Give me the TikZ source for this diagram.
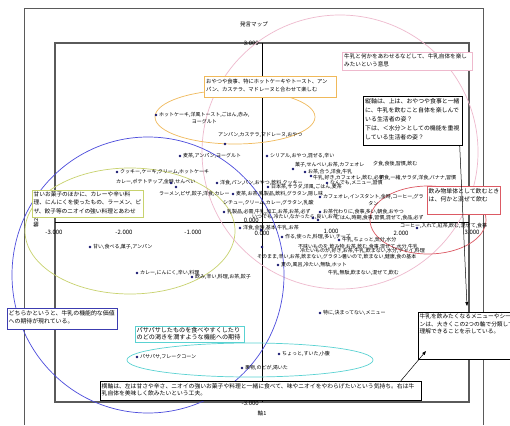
\documentclass[tikz,border=0pt]{standalone}
\usepackage{fontspec}
\setmainfont{Noto Sans CJK JP}
\usetikzlibrary{shapes.geometric,arrows.meta}
\definecolor{orE}{RGB}{240,185,90}
\definecolor{pkE}{RGB}{238,185,205}
\definecolor{blE}{RGB}{75,75,220}
\definecolor{ylE}{RGB}{200,210,110}
\definecolor{rdE}{RGB}{220,90,100}
\definecolor{cyE}{RGB}{90,210,210}
\definecolor{dotc}{RGB}{20,20,110}
\definecolor{frc}{RGB}{90,90,90}
\newcommand\mpt[4]{\node[dot] (#1) at (#2,#3) {}; \node[lab] (#1t) at ([xshift=1.3pt]#1.east) {#4};}
\newcommand\mdot[3]{\node[dot] (#1) at (#2,#3) {};}
\newcommand\mtxt[4]{\node[lab] (#1) at (#2,#3) {#4};}
\tikzset{
 dot/.style={diamond, fill=dotc, inner sep=0pt, minimum size=3pt},
 lab/.style={font=\fontsize{5}{6}\selectfont, inner sep=0pt, anchor=west},
 ticklab/.style={font=\fontsize{6}{7}\selectfont, inner sep=0pt},
 frm/.style={fill=white, line width=0.7pt, inner sep=0pt, anchor=north west},
 btxt/.style={inner sep=0pt, anchor=north west, align=left},
 ell/.style={line width=0.7pt},
 arr/.style={line width=0.5pt, -{Triangle[length=4pt,width=3pt]}}
}
\begin{document}
\begin{tikzpicture}[x=1pt,y=-1pt]
\useasboundingbox (0,0) rectangle (510,425);
\fill[white] (0,0) rectangle (510,425);
% outer frame
\draw[frc, line width=0.7pt] (24,425) -- (24,8) -- (483,8) -- (483,425);
\node[font=\fontsize{5.6}{7}\selectfont, inner sep=0pt] (title) at (254,24) {発言マップ};
% inner frame and axes
\draw[frc, line width=1.4pt] (55,43) rectangle (469,402);
\draw[black, line width=0.5pt] (55,222) -- (469,222);
\draw[black, line width=0.5pt] (262,43) -- (262,402);
% tick labels
\node[ticklab] (xm3) at (54,232) {-3.000};
\node[ticklab] (xm2) at (124,232) {-2.000};
\node[ticklab] (xm1) at (193,232) {-1.000};
\node[ticklab] (x0) at (262,233) {0.000};
\node[ticklab] (x1) at (331,231) {1.000};
\node[ticklab] (x2) at (401,233) {2.000};
\node[ticklab] (x3) at (472,232) {3.000};
\node[ticklab, anchor=east] (y3) at (259,43) {3.000};
\node[ticklab, anchor=east] (y0) at (259,220) {0.000};
\node[ticklab, anchor=east] (ym3) at (259,403) {-3.000};
\node[font=\fontsize{5.6}{7}\selectfont, inner sep=0pt] (ax1) at (262,413) {軸1};
\node[font=\fontsize{5.6}{7}\selectfont, inner sep=0pt, rotate=90] (ax2) at (36,223) {軸2};
% ellipses
\draw[ell, pkE] (340,152) ellipse [x radius=138, y radius=137];
\draw[ell, orE] (235,117) ellipse [x radius=80, y radius=27];
\draw[ell, blE] (148,275) ellipse [x radius=136, y radius=138];
\draw[ell, ylE] (130,231) ellipse [x radius=105, y radius=63];
\draw[ell, rdE] (428,220) ellipse [x radius=58, y radius=34];
\draw[ell, cyE] (250,360) ellipse [x radius=123, y radius=17];
% data points
\mdot{a1}{156}{115}
\node[lab, anchor=north west, align=center, font=\fontsize{5}{7}\selectfont] (a1t) at (159,112) {ホットケーキ,洋風トースト,ごはん,赤み,\\ヨーグルト};
\mdot{a2}{225}{144}
\mtxt{a2t}{218}{135}{アンパン,カステラ,マドレーヌ,おやつ}
\mpt{a3}{180}{156}{麦茶,アンパン,ヨーグルト}
\mpt{a4}{267}{156}{シリアル,おやつ,混ぜる,辛い}
\mpt{a5}{117}{172}{クッキー,ケーキ,クリーム,ホットケーキ}
\mtxt{l6}{116}{182}{カレー,ポテトチップ,金時,せんべい}
\mdot{a6}{171}{183}
\mdot{a7}{176}{187}
\mtxt{l7}{159}{194}{ラーメン,ピザ,餃子,洋食,カレー}
\mpt{a8}{217}{183}{洋食,パン,パン,おやつ,飲料,クッキー}
\mpt{a9}{233}{194}{麦茶,お茶,乳製品,飲料,グラタン,隠し味}
\mpt{a10}{268}{187}{日本茶,サラダ,洋風,ごはん,麦茶}
\mdot{a11}{320}{197}
\node[lab, anchor=north west, align=center, font=\fontsize{5}{7}\selectfont] (a11t) at (323,194) {カフェオレ,インスタント,金時,コーヒー,グラ\\タン};
\mdot{a12}{293}{169}
\mtxt{a12t}{295}{165}{菓子,せんべい,お茶,カフェオレ}
\mpt{a13}{305}{172}{お茶,合う,洋食,牛乳}
\mdot{a14}{311}{176}
\mtxt{a14t}{313}{178}{牛乳,好き,カフェオレ,飲む,必ず}
\mtxt{l15}{373}{164}{夕食,食後,習慣,飲む}
\mtxt{l16}{379}{178}{朝食,一緒,サラダ,洋食,バナナ,習慣}
\mpt{a15}{327}{183}{なんでも,メニュー,習慣}
\mtxt{l17}{223}{203}{シチュー,クリーム,カレー,グラタン,乳酸}
\mpt{a16}{224}{212}{乳製品,必需,牛乳,加工,お茶,お茶,必ず}
\mpt{a17}{240}{228}{洋食,金時,基本,牛乳,お茶}
\mtxt{l18}{252}{217}{いつでも,冷たい,なかったら,良い,お茶}
\mpt{a18}{320}{212}{お茶代わりに,食事,多い,朝食,おやつ}
\mtxt{l19}{335}{218}{ごはん,時期,食事,習慣,混ぜて,食品,必ず}
\mdot{a19}{313}{218}
\mdot{a20}{318}{220}
\mdot{a21}{417}{228}
\mtxt{a21t}{400}{226}{コーヒー,入れて,紅茶,飲む,混ぜて,食事}
\mpt{a22}{282}{237}{作る,使った,料理,多い,チーズ}
\mpt{a23}{339}{240}{牛乳,ちょっと,気分,水分}
\mdot{a24}{262}{247}
\mdot{a25}{261}{230}
\mtxt{l20}{298}{247}{不味いものを,飲み物,お茶,飲む,食事,混ぜて,水分,牛乳}
\mtxt{l21}{300}{251}{冷たいものが,好き,お茶,牛乳,飲まない,水分,チャイ,料理}
\mtxt{l22}{257}{257}{そのまま,辛い,お茶,飲まない,グラタン}
\mtxt{l23}{342}{257}{暑いので,飲まない,健康,食の基本}
\mpt{a26}{278}{265}{夏の,風呂,冷たい,無駄,ホット}
\mtxt{l24}{328}{273}{牛乳,無駄,飲まない,混ぜて,飲む}
\mpt{a27}{90}{247}{甘い,食べる,菓子,アンパン}
\mpt{a28}{137}{273}{カレー,にんにく,辛い,料理}
\mpt{a29}{192}{277}{飲み,辛い,料理,お茶,餃子}
\mpt{a30}{320}{313}{特に,決まってない,メニュー}
\mpt{a31}{279}{354}{ちょっと,すいた,小腹}
\mpt{a32}{137}{357}{パサパサ,フレークコーン}
\mpt{a33}{242}{368}{果物,のどが,渇いた}
% text boxes
\node[frm, draw=orE, minimum width=132pt, minimum height=21pt] (bA) at (204,76) {};
\node[btxt, font=\fontsize{5.3}{8}\selectfont] (bAt) at ([shift={(2,2.5)}]bA.north west) {おやつや食事、特にホットケーキやトースト、アン\\パン、カステラ、マドレーヌと合わせて楽しむ};
\node[frm, draw=pkE, minimum width=130pt, minimum height=18pt] (bB) at (342,52) {};
\node[btxt, font=\fontsize{5.6}{8}\selectfont] (bBt) at ([shift={(2,2)}]bB.north west) {牛乳と何かをあわせるなどして、牛乳自体を楽し\\みたいという意思};
\node[frm, draw=black, minimum width=99pt, minimum height=49pt] (bC) at (363,96) {};
\node[btxt, font=\fontsize{5.9}{9}\selectfont] (bCt) at ([shift={(2,2)}]bC.north west) {縦軸は、上は、おやつや食事と一緒\\に、牛乳を飲むこと自体を楽しんで\\いる生活者の姿？\\下は、＜水分＞としての機能を重視\\している生活者の姿？};
\node[frm, draw=rdE, minimum width=73pt, minimum height=28pt] (bI) at (427,186) {};
\node[btxt, font=\fontsize{5.9}{8}\selectfont] (bIt) at ([shift={(1.5,2)}]bI.north west) {飲み物単体として飲むとき\\は、何かと混ぜて飲む};
\node[frm, draw=ylE, minimum width=111pt, minimum height=27pt] (bH) at (32,190) {};
\node[btxt, font=\fontsize{5.7}{8.5}\selectfont] (bHt) at ([shift={(1.5,1.5)}]bH.north west) {甘いお菓子のほかに、カレーや辛い料\\理、にんにくを使ったもの、ラーメン、ピ\\ザ、餃子等のニオイの強い料理とあわせ};
\node[frm, draw=blE!80!black, minimum width=110pt, minimum height=21pt] (bG) at (7,308) {};
\node[btxt, font=\fontsize{5.9}{8}\selectfont] (bGt) at ([shift={(1.5,2)}]bG.north west) {どちらかというと、牛乳の機能的な価値\\への期待が現れている。};
\node[frm, draw=cyE, minimum width=109pt, minimum height=16pt] (bF) at (135,326) {};
\node[btxt, font=\fontsize{6.1}{7.5}\selectfont] (bFt) at ([shift={(1.5,1)}]bF.north west) {パサパサしたものを食べやすくしたり\\のどの渇きを潤すような機能への期待};
\node[frm, draw=black, minimum width=321pt, minimum height=19pt] (bE) at (100,381) {};
\node[btxt, font=\fontsize{5.8}{7.5}\selectfont] (bEt) at ([shift={(1.5,2)}]bE.north west) {横軸は、左は甘さや辛さ、ニオイの強いお菓子や料理と一緒に食べて、味やニオイをやわらげたいという気持ち。右は牛\\乳自体を美味しく飲みたいという工夫。};
\node[frm, draw=black, minimum width=95pt, minimum height=47pt] (bD) at (418,312) {};
\node[btxt, font=\fontsize{5.7}{7.5}\selectfont] (bDt) at ([shift={(1.5,2)}]bD.north west) {牛乳を飲みたくなるメニューやシー\\ンは、大きくこの2つの軸で分類して\\理解できることを示している。};
% arrows
\coordinate (tipD1) at (467,306);
\coordinate (tipD2) at (426,351);
\draw[arr] ([xshift=-3pt]bC.south east) -- (tipD1);
\draw[arr] ([xshift=-21pt]bE.north east) -- (tipD2);
\end{tikzpicture}
\end{document}
